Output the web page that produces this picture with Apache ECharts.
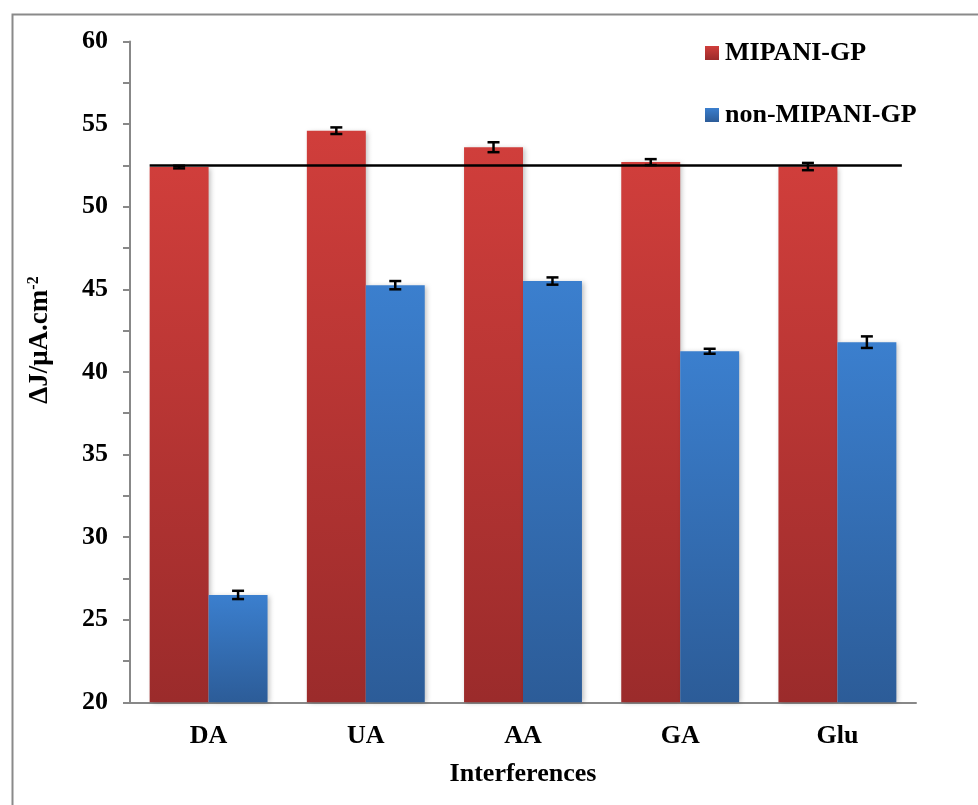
<!DOCTYPE html>
<html>
<head>
<meta charset="utf-8">
<script src="https://cdn.jsdelivr.net/npm/echarts@6/dist/echarts.min.js"></script>
<style>html,body{margin:0;padding:0;background:#fff;}#c{width:978px;height:805px;}</style>
</head>
<body>
<div id="c"></div>
<script>
const categories = ['DA', 'UA', 'AA', 'GA', 'Glu'];
const mipaniValues = [52.4, 54.6, 53.6, 52.7, 52.43];
const mipaniErrors = [0.08, 0.2, 0.3, 0.18, 0.22];
const nonMipaniValues = [26.5, 45.25, 45.5, 41.25, 41.8];
const nonMipaniErrors = [0.25, 0.25, 0.22, 0.15, 0.35];
const refLineX = [-0.375, 4.41];
const refLineY = 52.5;
const yTicks = { min: 20, max: 60, interval: 5 };

const FONT = '"Liberation Serif", "Times New Roman", serif';
const chart = echarts.init(document.getElementById('c'), null, { renderer: 'canvas' });

const redGrad = new echarts.graphic.LinearGradient(0, 0, 0, 1, [
  { offset: 0, color: '#d03e3b' }, { offset: 1, color: '#9b2b2b' }]);
const blueGrad = new echarts.graphic.LinearGradient(0, 0, 0, 1, [
  { offset: 0, color: '#3b7fce' }, { offset: 1, color: '#2c5c98' }]);

const barCatGap = 0.25;

function errorSeries(vals, errs, side) {
  return {
    type: 'custom',
    xAxisIndex: 0, yAxisIndex: 0,
    z: 10,
    silent: true,
    data: vals.map((v, i) => [i, v, errs[i]]),
    renderItem: function (params, api) {
      const i = api.value(0), v = api.value(1), e = api.value(2);
      const band = api.size([1, 0])[0];
      const off = side * band * (1 - barCatGap) / 4;
      const top = api.coord([i, v + e]);
      const bot = api.coord([i, v - e]);
      const x = top[0] + off;
      const cap = 6;
      const st = { stroke: '#000', lineWidth: 2.5 };
      return {
        type: 'group',
        children: [
          { type: 'line', shape: { x1: x, y1: top[1], x2: x, y2: bot[1] }, style: st },
          { type: 'line', shape: { x1: x - cap, y1: top[1], x2: x + cap, y2: top[1] }, style: st },
          { type: 'line', shape: { x1: x - cap, y1: bot[1], x2: x + cap, y2: bot[1] }, style: st }
        ]
      };
    }
  };
}

const option = {
  backgroundColor: '#fff',
  animation: false,
  grid: { left: 130, right: 62, top: 41.5, bottom: 102.7 },
  legend: {
    orient: 'vertical',
    left: 705, top: 40,
    padding: 0,
    itemWidth: 14, itemHeight: 14,
    itemGap: 36,
    icon: 'rect',
    textStyle: { fontFamily: FONT, fontWeight: 'bold', fontSize: 26, color: '#000', padding: [0, 0, 0, 1] },
    data: ['MIPANI-GP', 'non-MIPANI-GP']
  },
  xAxis: [{
    type: 'category',
    data: categories,
    name: 'Interferences',
    nameLocation: 'middle',
    nameGap: 59,
    nameTextStyle: { fontFamily: FONT, fontWeight: 'bold', fontSize: 26, color: '#000' },
    axisLine: { lineStyle: { color: '#888', width: 2 } },
    axisTick: { show: false },
    axisLabel: { fontFamily: FONT, fontWeight: 'bold', fontSize: 26, color: '#000', margin: 21 }
  }, {
    type: 'value',
    min: -0.5, max: 4.5,
    show: false
  }],
  yAxis: {
    type: 'value',
    min: yTicks.min, max: yTicks.max, interval: yTicks.interval,
    axisLine: { show: true, onZero: false, lineStyle: { color: '#888', width: 2 } },
    axisTick: { show: true, length: 7, lineStyle: { color: '#888', width: 2 } },
    minorTick: { show: true, splitNumber: 2, length: 7, lineStyle: { color: '#888', width: 2 } },
    splitLine: { show: false },
    axisLabel: { fontFamily: FONT, fontWeight: 'bold', fontSize: 26, color: '#000', margin: 22 }
  },
  graphic: [
    { type: 'rect', left: 10, top: 12, shape: { width: 1200, height: 1200 },
      style: { fill: 'none', stroke: '#8a8a8a', lineWidth: 2 }, silent: true },
    { type: 'text', x: 40, y: 340, rotation: Math.PI / 2,
      style: {
        text: '{a|ΔJ/μA.cm}{b|-2}',
        align: 'center', verticalAlign: 'middle',
        rich: {
          a: { fontFamily: FONT, fontWeight: 'bold', fontSize: 27, fill: '#000' },
          b: { fontFamily: FONT, fontWeight: 'bold', fontSize: 16, fill: '#000', verticalAlign: 'top', padding: [0, 0, 12, 0] }
        }
      } }
  ],
  series: [
    {
      name: 'MIPANI-GP', type: 'bar', data: mipaniValues,
      barGap: '0%', barCategoryGap: (barCatGap * 100) + '%',
      itemStyle: { color: redGrad, shadowBlur: 5, shadowColor: 'rgba(0,0,0,0.25)', shadowOffsetX: 2, shadowOffsetY: 1 }
    },
    {
      name: 'non-MIPANI-GP', type: 'bar', data: nonMipaniValues,
      barGap: '0%', barCategoryGap: (barCatGap * 100) + '%',
      itemStyle: { color: blueGrad, shadowBlur: 5, shadowColor: 'rgba(0,0,0,0.25)', shadowOffsetX: 2, shadowOffsetY: 1 }
    },
    {
      name: 'ref', type: 'line', xAxisIndex: 1, yAxisIndex: 0,
      data: refLineX.map(x => [x, refLineY]),
      symbol: 'none', silent: true, z: 8,
      lineStyle: { color: '#000', width: 2.5 }
    },
    errorSeries(mipaniValues, mipaniErrors, -1),
    errorSeries(nonMipaniValues, nonMipaniErrors, 1)
  ]
};
chart.setOption(option);
</script>
</body>
</html>
